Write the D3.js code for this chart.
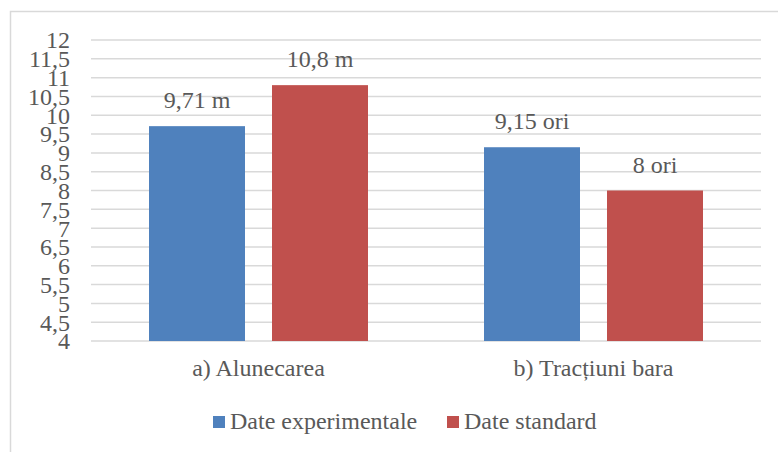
<!DOCTYPE html>
<html>
<head>
<meta charset="utf-8">
<script src="https://cdn.jsdelivr.net/npm/d3@7/dist/d3.min.js"></script>
<style>
  html, body { margin: 0; padding: 0; background: #fff; }
  svg { display: block; }
</style>
</head>
<body>
<svg id="chart" width="778" height="452"></svg>
<script>
// Categories, units and series values
const categories = ["a) Alunecarea", "b) Tracțiuni bara"];
const units = ["m", "ori"];
const seriesNames = ["Date experimentale", "Date standard"];
const experimental = [9.71, 9.15];
const standard = [10.8, 8];
const seriesColors = ["#4F81BD", "#C0504D"];
const yTicks = [4, 4.5, 5, 5.5, 6, 6.5, 7, 7.5, 8, 8.5, 9, 9.5, 10, 10.5, 11, 11.5, 12];

const seriesValues = [experimental, standard];

const ro = d3.formatLocale({ decimal: ",", thousands: ".", grouping: [3], currency: ["", " lei"] });
const fmt = ro.format("~r");

const FONT = "'Liberation Serif', 'Times New Roman', Times, 'DejaVu Serif', serif";
const TEXT_COLOR = "#595959";
const fontSize = 24;

const svg = d3.select("#chart")
  .attr("font-family", FONT)
  .style("font-family", FONT);

// Outer frame
svg.append("rect")
  .attr("x", 10.5).attr("y", 11.5)
  .attr("width", 800).attr("height", 500)
  .attr("fill", "none")
  .attr("stroke", "#d9d9d9")
  .attr("stroke-width", 1.5);

const plot = { left: 91, right: 761, top: 40, bottom: 341 };

const y = d3.scaleLinear().domain([4, 12]).range([plot.bottom, plot.top]);

const x0 = d3.scaleBand()
  .domain(categories)
  .range([plot.left, plot.right])
  .padding(0);

const groupPad = 58;
const x1 = d3.scaleBand()
  .domain(seriesNames)
  .range([groupPad, x0.bandwidth() - groupPad])
  .paddingInner(27 / 123)
  .paddingOuter(0);

// Horizontal gridlines
svg.append("g")
  .selectAll("line")
  .data(yTicks)
  .join("line")
  .attr("x1", plot.left).attr("x2", plot.right)
  .attr("y1", d => y(d)).attr("y2", d => y(d))
  .attr("stroke", "#d9d9d9")
  .attr("stroke-width", 1.5);

const txt = sel => sel
  .attr("font-family", FONT)
  .attr("font-size", fontSize)
  .attr("fill", TEXT_COLOR);

// Y tick labels
svg.append("g")
  .selectAll("text")
  .data(yTicks)
  .join("text")
  .call(txt)
  .attr("x", 70)
  .attr("y", d => y(d))
  .attr("dy", "0.35em")
  .attr("text-anchor", "end")
  .text(d => fmt(d));

// Bars
const groups = svg.append("g")
  .selectAll("g")
  .data(categories)
  .join("g")
  .attr("transform", d => `translate(${x0(d)},0)`);

const barData = (c, ci) => seriesNames.map((s, si) => ({
  series: s, value: seriesValues[si][ci], color: seriesColors[si], unit: units[ci]
}));

groups.selectAll("rect")
  .data((c, ci) => barData(c, ci))
  .join("rect")
  .attr("x", d => x1(d.series))
  .attr("width", x1.bandwidth())
  .attr("y", d => y(d.value))
  .attr("height", d => y(4) - y(d.value))
  .attr("fill", d => d.color);

// Value labels
groups.selectAll("text.val")
  .data((c, ci) => barData(c, ci))
  .join("text")
  .attr("class", "val")
  .call(txt)
  .attr("x", d => x1(d.series) + x1.bandwidth() / 2)
  .attr("y", d => y(d.value) - 18)
  .attr("text-anchor", "middle")
  .text(d => `${fmt(d.value)} ${d.unit}`);

// Category labels
svg.append("g")
  .selectAll("text")
  .data(categories)
  .join("text")
  .call(txt)
  .attr("x", d => x0(d) + x0.bandwidth() / 2)
  .attr("y", 376)
  .attr("text-anchor", "middle")
  .text(d => d);

// Legend
const legendPos = [213, 447];
const legend = svg.append("g")
  .selectAll("g")
  .data(seriesNames)
  .join("g")
  .attr("transform", (d, i) => `translate(${legendPos[i]},0)`);

legend.append("rect")
  .attr("x", 0).attr("y", 416)
  .attr("width", 12).attr("height", 12)
  .attr("fill", (d, i) => seriesColors[i]);

legend.append("text")
  .call(txt)
  .attr("x", 17).attr("y", 429)
  .text(d => d);
</script>
</body>
</html>
